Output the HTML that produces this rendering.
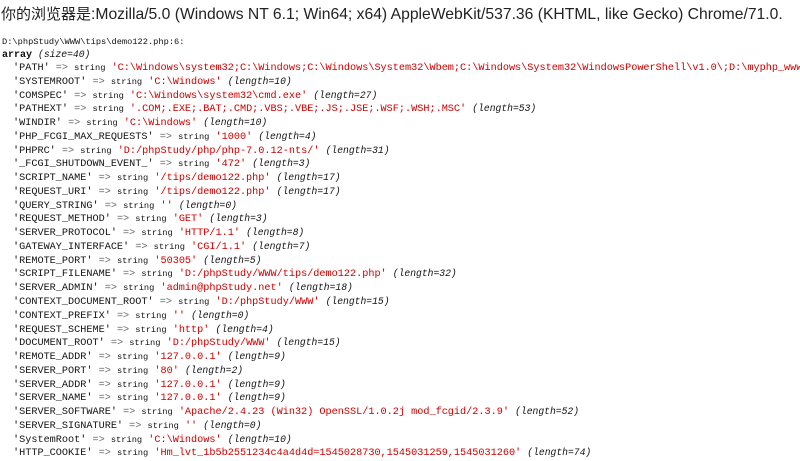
<!DOCTYPE html>
<html><head><meta charset="utf-8"><style>
body{margin:0;width:800px;height:450px;overflow:hidden;background:#fff;position:relative;}
.h{position:absolute;left:1px;top:3px;font:15.7px "Liberation Sans","Noto Sans CJK SC",sans-serif;color:#222;white-space:nowrap;}
.h span{font-size:15px;}
.p{position:absolute;left:2px;top:37px;font:8.7px "Liberation Mono",monospace;color:#111;white-space:nowrap;}
.a{position:absolute;left:2px;top:49px;font:10px "Liberation Mono",monospace;color:#111;white-space:nowrap;}
#L{position:absolute;left:13px;top:62px;width:787px;overflow:hidden;font:10.2px "Liberation Mono",monospace;color:#111;white-space:pre;line-height:12.76px;}
s{text-decoration:none;font-size:8.7px;}
em{font-style:normal;color:#666;}
r{color:#cc0000;}
i{font-size:9.7px;}
</style></head><body>
<div class="h"><span>你的浏览器是</span>:Mozilla/5.0 (Windows NT 6.1; Win64; x64) AppleWebKit/537.36 (KHTML, like Gecko) Chrome/71.0.</div>
<div class="p">D:\phpStudy\WWW\tips\demo122.php:6:</div>
<div class="a"><b>array</b> <i>(size=40)</i></div>
<div id="L">'PATH' <em>=&gt;</em> <s>string</s> <r>'C:\Windows\system32;C:\Windows;C:\Windows\System32\Wbem;C:\Windows\System32\WindowsPowerShell\v1.0\;D:\myphp_www</r>
'SYSTEMROOT' <em>=&gt;</em> <s>string</s> <r>'C:\Windows'</r> <i>(length=10)</i>
'COMSPEC' <em>=&gt;</em> <s>string</s> <r>'C:\Windows\system32\cmd.exe'</r> <i>(length=27)</i>
'PATHEXT' <em>=&gt;</em> <s>string</s> <r>'.COM;.EXE;.BAT;.CMD;.VBS;.VBE;.JS;.JSE;.WSF;.WSH;.MSC'</r> <i>(length=53)</i>
'WINDIR' <em>=&gt;</em> <s>string</s> <r>'C:\Windows'</r> <i>(length=10)</i>
'PHP_FCGI_MAX_REQUESTS' <em>=&gt;</em> <s>string</s> <r>'1000'</r> <i>(length=4)</i>
'PHPRC' <em>=&gt;</em> <s>string</s> <r>'D:/phpStudy/php/php-7.0.12-nts/'</r> <i>(length=31)</i>
'_FCGI_SHUTDOWN_EVENT_' <em>=&gt;</em> <s>string</s> <r>'472'</r> <i>(length=3)</i>
'SCRIPT_NAME' <em>=&gt;</em> <s>string</s> <r>'/tips/demo122.php'</r> <i>(length=17)</i>
'REQUEST_URI' <em>=&gt;</em> <s>string</s> <r>'/tips/demo122.php'</r> <i>(length=17)</i>
'QUERY_STRING' <em>=&gt;</em> <s>string</s> <r>''</r> <i>(length=0)</i>
'REQUEST_METHOD' <em>=&gt;</em> <s>string</s> <r>'GET'</r> <i>(length=3)</i>
'SERVER_PROTOCOL' <em>=&gt;</em> <s>string</s> <r>'HTTP/1.1'</r> <i>(length=8)</i>
'GATEWAY_INTERFACE' <em>=&gt;</em> <s>string</s> <r>'CGI/1.1'</r> <i>(length=7)</i>
'REMOTE_PORT' <em>=&gt;</em> <s>string</s> <r>'50305'</r> <i>(length=5)</i>
'SCRIPT_FILENAME' <em>=&gt;</em> <s>string</s> <r>'D:/phpStudy/WWW/tips/demo122.php'</r> <i>(length=32)</i>
'SERVER_ADMIN' <em>=&gt;</em> <s>string</s> <r>'admin@phpStudy.net'</r> <i>(length=18)</i>
'CONTEXT_DOCUMENT_ROOT' <em>=&gt;</em> <s>string</s> <r>'D:/phpStudy/WWW'</r> <i>(length=15)</i>
'CONTEXT_PREFIX' <em>=&gt;</em> <s>string</s> <r>''</r> <i>(length=0)</i>
'REQUEST_SCHEME' <em>=&gt;</em> <s>string</s> <r>'http'</r> <i>(length=4)</i>
'DOCUMENT_ROOT' <em>=&gt;</em> <s>string</s> <r>'D:/phpStudy/WWW'</r> <i>(length=15)</i>
'REMOTE_ADDR' <em>=&gt;</em> <s>string</s> <r>'127.0.0.1'</r> <i>(length=9)</i>
'SERVER_PORT' <em>=&gt;</em> <s>string</s> <r>'80'</r> <i>(length=2)</i>
'SERVER_ADDR' <em>=&gt;</em> <s>string</s> <r>'127.0.0.1'</r> <i>(length=9)</i>
'SERVER_NAME' <em>=&gt;</em> <s>string</s> <r>'127.0.0.1'</r> <i>(length=9)</i>
'SERVER_SOFTWARE' <em>=&gt;</em> <s>string</s> <r>'Apache/2.4.23 (Win32) OpenSSL/1.0.2j mod_fcgid/2.3.9'</r> <i>(length=52)</i>
'SERVER_SIGNATURE' <em>=&gt;</em> <s>string</s> <r>''</r> <i>(length=0)</i>
'SystemRoot' <em>=&gt;</em> <s>string</s> <r>'C:\Windows'</r> <i>(length=10)</i>
'HTTP_COOKIE' <em>=&gt;</em> <s>string</s> <r>'Hm_lvt_1b5b2551234c4a4d4d=1545028730,1545031259,1545031260'</r> <i>(length=74)</i></div>
</body></html>
